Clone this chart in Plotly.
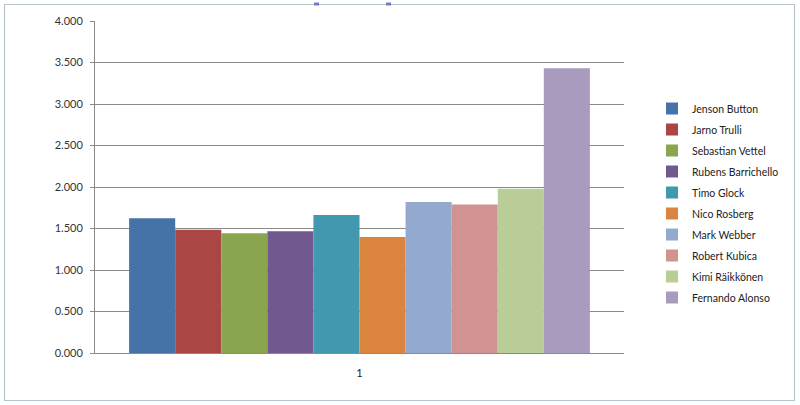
import plotly.graph_objects as go

drivers = ["Jenson Button", "Jarno Trulli", "Sebastian Vettel", "Rubens Barrichello",
           "Timo Glock", "Nico Rosberg", "Mark Webber", "Robert Kubica",
           "Kimi Räikkönen", "Fernando Alonso"]
values = [1.622, 1.486, 1.442, 1.466, 1.663, 1.398, 1.819, 1.790, 1.980, 3.430]
colors = ["#4572A7", "#AA4643", "#89A54E", "#71588F", "#4198AF",
          "#DB843D", "#93A9CF", "#D19392", "#B9CD96", "#A99BBD"]
category = ["1"]
y_ticks = [0, 0.5, 1.0, 1.5, 2.0, 2.5, 3.0, 3.5, 4.0]

fig = go.Figure()
for i, (d, v, c) in enumerate(zip(drivers, values, colors)):
    fig.add_trace(go.Bar(x=category, y=[v], name=d, marker=dict(color=c, line=dict(width=0)),
                         legendgroup=f"g{i}"))

W, H = 800, 405
L, R, T, B = 95, 176, 21, 52
PW, PH = W - L - R, H - T - B


def px(x):
    return (x - L) / PW


def py(y):
    return (H - B - y) / PH


fig.update_layout(
    width=W, height=H,
    margin=dict(l=L, r=R, t=T, b=B, autoexpand=False),
    paper_bgcolor="white", plot_bgcolor="white",
    barmode="group", bargap=0.129, bargroupgap=0,
    font=dict(family="Lato, Open Sans, sans-serif", size=11, color="#333333"),
    showlegend=True,
    legend=dict(x=px(652), xanchor="left", y=py(203), yanchor="middle",
                traceorder="grouped", tracegroupgap=2,
                font=dict(size=10.5, color="#222222"),
                itemwidth=30, bgcolor="rgba(0,0,0,0)"),
    xaxis=dict(type="category", showgrid=False, showline=True, linecolor="#8a8a8a",
               linewidth=1, ticks="", tickfont=dict(size=11, color="#222222"),
               ticklabelstandoff=10, zeroline=False, fixedrange=True),
    yaxis=dict(range=[0, 4.0], tickvals=y_ticks, tickformat=".3f",
               showgrid=True, gridcolor="#8a8a8a", gridwidth=1,
               showline=True, linecolor="#8a8a8a", linewidth=1,
               ticks="outside", ticklen=4, tickcolor="#8a8a8a",
               ticklabelstandoff=5,
               tickfont=dict(size=11, color="#333333"), zeroline=False),
    shapes=[
        dict(type="rect", xref="paper", yref="paper",
             x0=px(4.5), x1=px(794.5), y0=py(400.5), y1=py(4.5),
             line=dict(color="#b4c6cc", width=1.2)),
        dict(type="rect", xref="paper", yref="paper",
             x0=px(314), x1=px(319), y0=py(5.5), y1=py(2.5),
             fillcolor="#7777cc", line=dict(width=0)),
        dict(type="rect", xref="paper", yref="paper",
             x0=px(386), x1=px(391), y0=py(5.5), y1=py(2.5),
             fillcolor="#7777cc", line=dict(width=0)),
    ],
)

fig.write_html("out.html", config={"displayModeBar": False},
               post_script="document.body.style.margin='0';document.body.style.overflow='hidden';")
